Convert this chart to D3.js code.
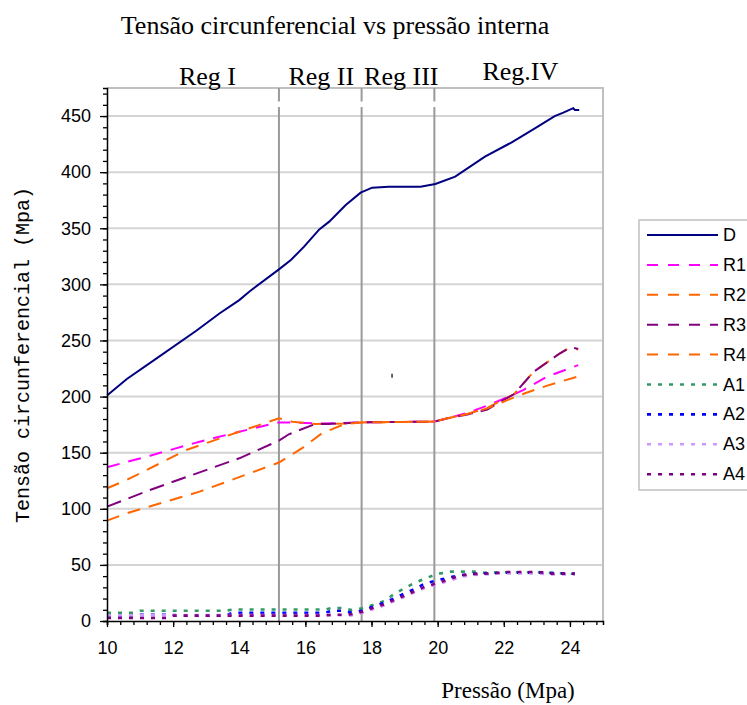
<!DOCTYPE html>
<html>
<head>
<meta charset="utf-8">
<script src="https://cdn.jsdelivr.net/npm/d3@7"></script>
<style>
  body { margin: 0; background: #fff; }
  svg { display: block; }
</style>
</head>
<body>
<div id="chart"></div>
<script>
// series values (pressao in MPa, tensao in MPa)
var dX = [10, 10.6, 11.5, 12.7, 13.4, 14.0, 14.3, 15.2, 15.56, 15.96, 16.42, 16.72, 17.22, 17.67, 18.02, 18.52, 19.48, 19.93, 20.53, 21.43, 22.24, 22.94, 23.54, 23.8, 24.1, 24.15, 24.28];
var dY = [201, 215.7, 234, 258.7, 274, 286, 293.5, 313.4, 321.7, 333.6, 349, 355.9, 370.8, 381.7, 386.2, 387, 387, 389.5, 396, 413.8, 426.6, 439, 450, 453, 457, 455.4, 455.4];

var r1X = [10, 11.3, 12.8, 14, 15.2, 15.6, 16.3, 17.2, 17.7, 19.9, 20.3, 20.9, 21.5, 22.2, 22.6, 23.3, 24.25];
var r1Y = [137, 147.3, 159.8, 168.7, 177, 177, 176, 176.5, 177, 177.7, 180.6, 185.5, 192, 200.5, 206, 217.7, 228];

var r2X = [10, 10.6, 12.4, 14, 15.2, 15.6, 16.3, 17.2, 17.7, 19.9, 20.3, 20.9, 21.5, 22.3, 22.9, 23.7, 23.9, 24.05, 24.25];
var r2Y = [118.3, 125.7, 152.4, 168.7, 180.6, 177.6, 175.6, 176, 177, 177.7, 180.6, 184.5, 190, 202, 222, 238.6, 242, 243, 242];

var r3X = [10, 11.3, 14, 15.2, 15.5, 16.3, 16.7, 17.2, 17.7, 19.9, 20.3, 20.9, 21.5, 22.3, 22.9, 23.7, 23.9, 24.1, 24.25];
var r3Y = [101.9, 116.8, 145, 160.7, 166.4, 175.6, 175.6, 176.3, 177, 177.7, 180.6, 184, 188.5, 202, 222, 238.6, 242, 243.5, 242.5];

var r4X = [10, 10.6, 12.8, 15.2, 15.9, 16.5, 17.2, 17.7, 19.9, 20.3, 20.9, 21.5, 22.2, 22.64, 23.34, 24.25];
var r4Y = [89.5, 96, 115.3, 141.2, 154, 167.3, 175.6, 177, 177.7, 180.6, 184.5, 189.5, 198, 203, 210, 218];

var a1X = [10, 10.8, 11.0, 13.6, 13.8, 16.6, 16.8, 17.1, 17.4, 17.72, 18.04, 18.4, 18.67, 18.98, 19.28, 19.63, 19.98, 20.38, 21.1, 21.4, 22, 23, 24.15];
var a1Y = [7.4, 7.4, 9.2, 9.2, 10.2, 10.2, 11.6, 11.6, 9.8, 11.3, 14.2, 18, 23.8, 29, 33.6, 38, 41.9, 44, 44, 43, 43.5, 43.5, 42];

var a2X = [10, 10.8, 11.0, 11.8, 12.1, 13.6, 13.8, 16.6, 16.8, 17.1, 17.4, 17.7, 18.04, 18.4, 18.67, 19.0, 19.33, 19.63, 20.03, 20.38, 20.73, 21.1, 22, 23, 24.15];
var a2Y = [4.5, 4.5, 5.6, 5.6, 5.0, 5.0, 7.4, 7.4, 9.2, 9.2, 7.5, 9, 12.8, 16.6, 20, 24.6, 29, 33.6, 36.5, 39, 41, 42, 43, 43.2, 42];

var a3X = [10, 11.8, 12.1, 16.6, 17.4, 17.7, 18.04, 18.4, 18.67, 19.0, 19.33, 19.63, 20.03, 20.38, 20.73, 21.1, 21.84, 23.04, 23.45, 24.15];
var a3Y = [5, 5, 5.3, 5.3, 5, 7, 10.5, 14, 17.5, 21.5, 26, 29.5, 33, 36, 39.5, 41, 42.3, 42.3, 41.5, 41.5];

var a4X = [10, 11.8, 12.0, 16.5, 16.8, 17.1, 17.4, 17.7, 18.04, 18.4, 18.67, 19.0, 19.33, 19.63, 20.03, 20.38, 20.73, 21.1, 21.4, 21.84, 22.04, 23.04, 23.45, 24.15];
var a4Y = [2.7, 2.7, 4.8, 4.8, 5.6, 5.6, 6, 8, 11.6, 15, 18.6, 22.5, 27, 30.8, 34, 37.6, 40.7, 42, 42, 43, 43.7, 43.7, 42.2, 42.2];

var seriesNames = ["D", "R1", "R2", "R3", "R4", "A1", "A2", "A3", "A4"];
var seriesX = [dX, r1X, r2X, r3X, r4X, a1X, a2X, a3X, a4X];
var seriesY = [dY, r1Y, r2Y, r3Y, r4Y, a1Y, a2Y, a3Y, a4Y];

var xTicks = [10, 12, 14, 16, 18, 20, 22, 24];
var yTicks = [0, 50, 100, 150, 200, 250, 300, 350, 400, 450];
var regionX = [15.2, 17.7, 19.9];
var regionLabels = ["Reg I", "Reg II", "Reg III", "Reg.IV"];
var regionLabelX = [13.04, 16.48, 18.9, 22.5];
var strayMark = [18.62, 218.6];

// styles
var colors = ["#000080", "#ff00ff", "#ff6600", "#800080", "#ff6600", "#339966", "#0000ff", "#cc99ff", "#800080"];
var dashes = ["none", "13,9", "13,9", "15,8", "13,9", "4,7", "4,7", "4,7", "4,7"];
var widths = [2, 2, 2, 2, 2, 2.6, 2.6, 2.6, 2.6];
var legendDashes = ["none", "11,10", "11,10", "11,10", "11,10", "4,7", "4,7", "4,7", "4,7"];

var width = 747, height = 705;
var margin = { left: 107, right: 144, top: 88, bottom: 84 };

var svg = d3.select("#chart").append("svg")
    .attr("width", width)
    .attr("height", height);

var x = d3.scaleLinear().domain([10, 25]).range([margin.left, width - margin.right]);
var y = d3.scaleLinear().domain([0, 475]).range([height - margin.bottom, margin.top]);

// grid
svg.append("g").selectAll("line")
    .data(yTicks.filter(function (d) { return d > 0; }))
    .enter().append("line")
    .attr("x1", x(10)).attr("x2", x(25))
    .attr("y1", function (d) { return y(d); })
    .attr("y2", function (d) { return y(d); })
    .attr("stroke", "#d4d4d4")
    .attr("stroke-width", 2);

// plot border (top / right)
svg.append("path")
    .attr("d", "M" + x(10) + "," + y(475) + "H" + x(25) + "V" + y(0))
    .attr("fill", "none")
    .attr("stroke", "#c0c0c0")
    .attr("stroke-width", 2);

// region separators, with the little white break near the top
svg.append("g").selectAll("line")
    .data(regionX)
    .enter().append("line")
    .attr("x1", function (d) { return x(d); })
    .attr("x2", function (d) { return x(d); })
    .attr("y1", y(475)).attr("y2", y(0))
    .attr("stroke", "#9a9a9a")
    .attr("stroke-width", 2);
svg.append("g").selectAll("line")
    .data(regionX)
    .enter().append("line")
    .attr("x1", function (d) { return x(d); })
    .attr("x2", function (d) { return x(d); })
    .attr("y1", y(463)).attr("y2", y(458))
    .attr("stroke", "#fff")
    .attr("stroke-width", 3);

// series
var line = d3.line()
    .x(function (d) { return x(d[0]); })
    .y(function (d) { return y(d[1]); });

seriesNames.forEach(function (name, i) {
    var pts = seriesX[i].map(function (v, j) { return [v, seriesY[i][j]]; });
    svg.append("path")
        .datum(pts)
        .attr("d", line)
        .attr("fill", "none")
        .attr("stroke", colors[i])
        .attr("stroke-width", widths[i])
        .attr("stroke-dasharray", dashes[i]);
});

// stray mark seen in the picture
svg.append("line")
    .attr("x1", x(strayMark[0])).attr("x2", x(strayMark[0]))
    .attr("y1", y(strayMark[1]) - 2).attr("y2", y(strayMark[1]) + 2)
    .attr("stroke", "#000").attr("stroke-width", 1.2);

// axes
var xAxis = d3.axisBottom(x)
    .tickValues(d3.range(10, 25.01, 0.4))
    .tickSize(4)
    .tickFormat("");
svg.append("g")
    .attr("transform", "translate(0," + y(0) + ")")
    .call(xAxis)
    .call(function (g) {
        g.select(".domain").attr("stroke", "#000").attr("stroke-width", 1.5);
        g.selectAll(".tick line").attr("stroke", "#000").attr("stroke-width", 1.3);
    });
svg.append("g")
    .attr("transform", "translate(0," + y(0) + ")")
    .call(d3.axisBottom(x).tickValues(xTicks).tickSize(6).tickPadding(14))
    .call(function (g) {
        g.select(".domain").remove();
        g.selectAll(".tick line").attr("stroke", "#000").attr("stroke-width", 1.3);
        g.selectAll("text")
            .attr("font-family", "Liberation Sans, Arial, sans-serif")
            .attr("font-size", "18px")
            .attr("fill", "#000");
    });

svg.append("g")
    .attr("transform", "translate(" + x(10) + ",0)")
    .call(d3.axisLeft(y).tickValues(d3.range(0, 475.01, 10)).tickSize(4).tickFormat(""))
    .call(function (g) {
        g.select(".domain").attr("stroke", "#000").attr("stroke-width", 1.5);
        g.selectAll(".tick line").attr("stroke", "#000").attr("stroke-width", 1.3);
    });
svg.append("g")
    .attr("transform", "translate(" + x(10) + ",0)")
    .call(d3.axisLeft(y).tickValues(yTicks).tickSize(7).tickPadding(9))
    .call(function (g) {
        g.select(".domain").remove();
        g.selectAll(".tick line").attr("stroke", "#000").attr("stroke-width", 1.3);
        g.selectAll("text")
            .attr("font-family", "Liberation Sans, Arial, sans-serif")
            .attr("font-size", "18px")
            .attr("fill", "#000");
    });

// region labels
svg.append("g").selectAll("text")
    .data(regionLabels)
    .enter().append("text")
    .attr("x", function (d, i) { return x(regionLabelX[i]); })
    .attr("y", function (d, i) { return i == 3 ? 80 : 85; })
    .attr("text-anchor", "middle")
    .attr("font-family", "Liberation Serif, Times New Roman, serif")
    .attr("font-size", "26px")
    .text(function (d) { return d; });

// titles
svg.append("text")
    .attr("x", 335).attr("y", 34)
    .attr("text-anchor", "middle")
    .attr("font-family", "Liberation Serif, Times New Roman, serif")
    .attr("font-size", "26px")
    .text("Tensão circunferencial vs pressão interna");

svg.append("text")
    .attr("x", 508).attr("y", 698)
    .attr("text-anchor", "middle")
    .attr("font-family", "Liberation Serif, Times New Roman, serif")
    .attr("font-size", "23px")
    .text("Pressão (Mpa)");

svg.append("text")
    .attr("transform", "translate(29,355) rotate(-90)")
    .attr("text-anchor", "middle")
    .attr("font-family", "Liberation Mono, Courier New, monospace")
    .attr("font-size", "20px")
    .text("Tensão circunferencial (Mpa)");

// legend
var legend = svg.append("g").attr("transform", "translate(639,220)");
legend.append("rect")
    .attr("x", 0).attr("y", 0)
    .attr("width", 130).attr("height", 270)
    .attr("fill", "#fff")
    .attr("stroke", "#c0c0c0")
    .attr("stroke-width", 1.5);
var items = legend.selectAll("g.item")
    .data(seriesNames)
    .enter().append("g")
    .attr("class", "item")
    .attr("transform", function (d, i) { return "translate(0," + (15 + i * 29.9) + ")"; });
items.append("line")
    .attr("x1", 8).attr("x2", 79)
    .attr("stroke", function (d, i) { return colors[i]; })
    .attr("stroke-width", function (d, i) { return i < 5 ? 2 : 2.6; })
    .attr("stroke-dasharray", function (d, i) { return legendDashes[i]; });
items.append("text")
    .attr("x", 84).attr("y", 6)
    .attr("font-family", "Liberation Sans, Arial, sans-serif")
    .attr("font-size", "18px")
    .text(function (d) { return d; });
</script>
</body>
</html>
